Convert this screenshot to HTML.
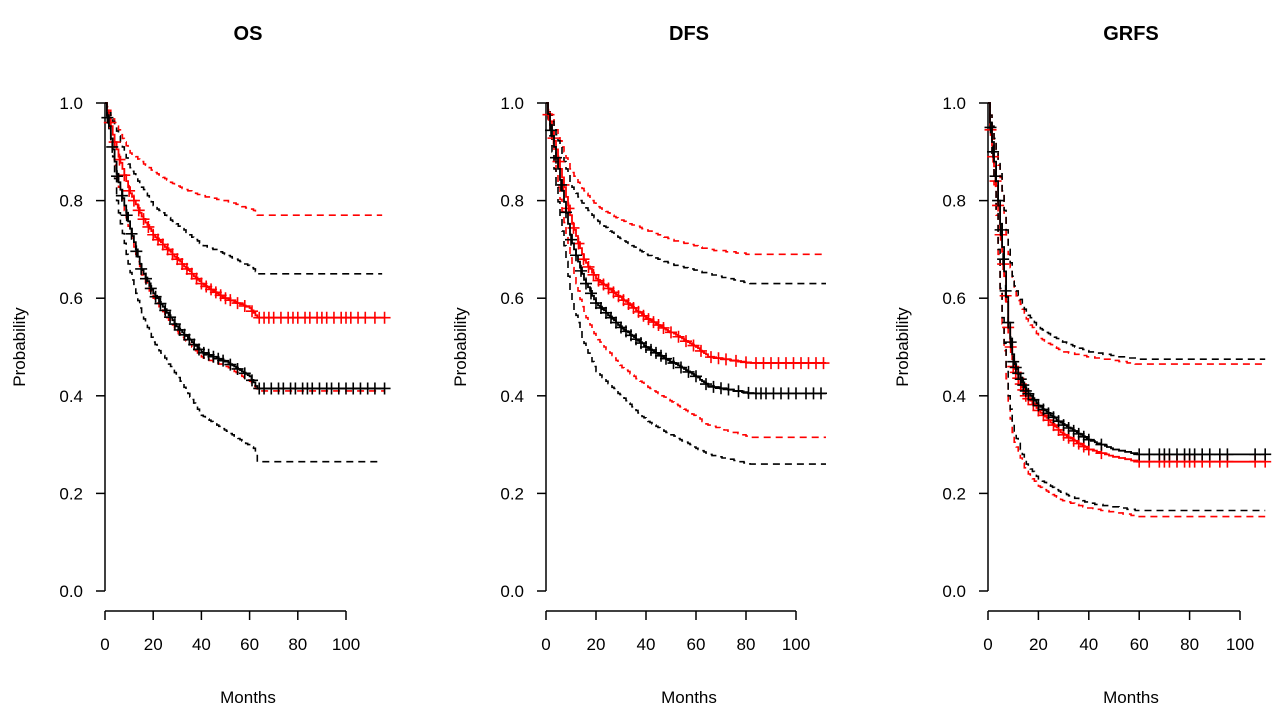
<!DOCTYPE html>
<html><head><meta charset="utf-8"><style>
body{margin:0;background:#fff;}
svg{display:block;font-family:"Liberation Sans",Arial,sans-serif;}
</style></head><body>
<svg id="chart" width="1280" height="722" viewBox="0 0 1280 722"></svg>
<script>
// ===== Data =====
const panelTitles = ["OS","DFS","GRFS"];
const xTicks = [0,20,40,60,80,100];
const yTicks = [0.0,0.2,0.4,0.6,0.8,1.0];
// OS
const osRedT = [0,5,10,15,20,30,40,50,60,63,116];
const osRedS = [1,0.9,0.82,0.77,0.73,0.68,0.63,0.60,0.58,0.56,0.56];
const osBlkT = [0,5,10,15,20,30,40,50,60,63,116];
const osBlkS = [1,0.85,0.75,0.66,0.61,0.54,0.49,0.47,0.44,0.415,0.415];
const osRedUpT = [0,5,10,20,30,40,50,62,63,115];
const osRedUpS = [1,0.95,0.90,0.86,0.83,0.81,0.80,0.78,0.77,0.77];
const osRedLoT = [0,5,10,15,20,30,40,50,60,63,116];
const osRedLoS = [1,0.84,0.74,0.65,0.60,0.53,0.48,0.46,0.43,0.41,0.41];
const osBlkUpT = [0,5,10,20,30,40,50,62,63,115];
const osBlkUpS = [1,0.94,0.87,0.79,0.75,0.71,0.69,0.66,0.65,0.65];
const osBlkLoT = [0,3,5,10,15,20,30,40,50,62,63,115];
const osBlkLoS = [1,0.9,0.79,0.66,0.57,0.51,0.44,0.36,0.33,0.29,0.265,0.265];
const osRedCens = [2,4,6,8,10,12,14,16,18,20,22,24,26,28,30,32,34,36,38,40,42,44,46,48,50,52,55,58,61,64,66,68,70,73,76,78,80,83,85,88,90,92,95,98,100,102,105,108,112,116];
const osBlkCens = [1,3,5,7,9,11,13,15,17,19,21,23,25,27,29,31,33,35,37,39,41,43,45,47,49,52,55,58,61,64,66,69,72,74,77,79,82,84,86,89,92,94,97,100,103,106,109,112,116];
// DFS
const dfsRedT = [0,5,10,15,20,30,40,50,60,65,82,112];
const dfsRedS = [1,0.88,0.76,0.68,0.64,0.60,0.56,0.53,0.50,0.48,0.467,0.467];
const dfsBlkT = [0,5,10,15,20,30,40,50,60,65,82,112];
const dfsBlkS = [1,0.86,0.72,0.64,0.59,0.54,0.50,0.47,0.44,0.42,0.405,0.405];
const dfsRedUpT = [0,5,10,15,20,30,40,50,65,82,112];
const dfsRedUpS = [1,0.93,0.86,0.82,0.79,0.76,0.74,0.72,0.70,0.69,0.69];
const dfsRedLoT = [0,5,10,15,20,30,40,50,65,82,112];
const dfsRedLoS = [1,0.82,0.67,0.57,0.52,0.46,0.42,0.39,0.34,0.315,0.315];
const dfsBlkUpT = [0,5,10,15,20,30,40,50,65,82,112];
const dfsBlkUpS = [1,0.92,0.83,0.79,0.76,0.72,0.69,0.67,0.65,0.63,0.63];
const dfsBlkLoT = [0,5,10,15,20,30,40,50,65,82,112];
const dfsBlkLoS = [1,0.79,0.60,0.51,0.45,0.40,0.35,0.32,0.28,0.26,0.26];
const dfsRedCens = [1,3,5,7,9,11,13,15,17,19,21,23,25,27,29,31,33,35,37,39,41,43,45,47,50,53,56,59,62,66,69,72,76,80,84,87,90,93,96,99,102,105,108,111];
const dfsBlkCens = [2,4,6,8,10,12,14,16,18,20,22,24,26,28,30,32,34,36,38,40,42,44,46,48,51,54,57,60,64,67,70,73,77,81,84,86,88,91,94,97,100,104,107,110];
// GRFS
const grRedT = [0,2,4,6,8,10,15,20,30,40,50,60,110];
const grRedS = [1,0.89,0.79,0.67,0.54,0.46,0.40,0.37,0.32,0.29,0.275,0.265,0.265];
const grBlkT = [0,2,4,6,8,10,15,20,30,40,50,60,110];
const grBlkS = [1,0.9,0.8,0.68,0.55,0.47,0.41,0.38,0.34,0.31,0.29,0.28,0.28];
const grRedUpT = [0,5,8,10,15,20,30,40,60,110];
const grRedUpS = [1,0.84,0.69,0.62,0.56,0.52,0.49,0.48,0.465,0.465];
const grRedLoT = [0,3,5,8,10,15,20,30,40,60,110];
const grRedLoS = [1,0.79,0.59,0.38,0.31,0.245,0.215,0.185,0.17,0.153,0.153];
const grBlkUpT = [0,5,8,10,15,20,30,40,60,110];
const grBlkUpS = [1,0.85,0.70,0.63,0.57,0.54,0.51,0.49,0.475,0.475];
const grBlkLoT = [0,3,5,8,10,15,20,30,40,60,110];
const grBlkLoS = [1,0.8,0.6,0.4,0.33,0.26,0.23,0.20,0.18,0.165,0.165];
const grRedCens = [1,2,3,4,5,6,7,8,9,10,11,12,13,14,15,16,18,20,22,24,26,28,30,32,34,36,38,40,45,60,64,68,70,72,75,78,80,82,85,88,92,95,106,110];
const grBlkCens = [1,2,3,4,5,6,7,8,9,10,11,12,13,14,15,16,18,20,22,24,26,28,30,32,34,36,38,40,45,60,64,68,70,72,75,78,80,82,85,88,92,95,106,110];

const panels = [
 {x0:105, scale:2.41, red:[osRedT,osRedS], blk:[osBlkT,osBlkS], ci:[[osRedUpT,osRedUpS,'red'],[osRedLoT,osRedLoS,'red'],[osBlkUpT,osBlkUpS,'black'],[osBlkLoT,osBlkLoS,'black']], rc:osRedCens, bc:osBlkCens},
 {x0:546, scale:2.5, red:[dfsRedT,dfsRedS], blk:[dfsBlkT,dfsBlkS], ci:[[dfsRedUpT,dfsRedUpS,'red'],[dfsRedLoT,dfsRedLoS,'red'],[dfsBlkUpT,dfsBlkUpS,'black'],[dfsBlkLoT,dfsBlkLoS,'black']], rc:dfsRedCens, bc:dfsBlkCens},
 {x0:988, scale:2.52, red:[grRedT,grRedS], blk:[grBlkT,grBlkS], ci:[[grRedUpT,grRedUpS,'red'],[grRedLoT,grRedLoS,'red'],[grBlkUpT,grBlkUpS,'black'],[grBlkLoT,grBlkLoS,'black']], rc:grRedCens, bc:grBlkCens}
];
const NS="http://www.w3.org/2000/svg";
const svg=document.getElementById('chart');
function el(tag,attrs,parent){const e=document.createElementNS(NS,tag);for(const k in attrs)e.setAttribute(k,attrs[k]);(parent||svg).appendChild(e);return e;}
const Y=v=>591-v*488;
function interp(T,S,t){for(let i=1;i<T.length;i++){if(t<=T[i]){const f=(t-T[i-1])/(T[i]-T[i-1]);return S[i-1]+f*(S[i]-S[i-1]);}}return S[S.length-1];}
function stepPath(T,S,X){let d='';const tEnd=T[T.length-1];let prev=1;d='M'+X(0)+','+Y(1);for(let t=0.8;t<=tEnd+0.01;t+=0.8){const v=interp(T,S,t);const vv=Math.round(v*400)/400;d+=' H'+X(t).toFixed(1)+' V'+Y(vv).toFixed(1);}d+=' H'+X(tEnd);return d;}
panels.forEach((p,i)=>{
 const X=t=>p.x0+t*p.scale;
 const g=el('g',{});
 
 
 const cx=p.x0+143;
 const title=el('text',{x:cx,y:40,'text-anchor':'middle','font-size':20,'font-weight':'bold'},g);title.textContent=panelTitles[i];
 
 const ya=el('g',{},g);
 
 el('line',{x1:p.x0,y1:Y(0),x2:p.x0,y2:Y(1),stroke:'#000','stroke-width':1.5},ya);
 yTicks.forEach(v=>{el('line',{x1:p.x0-9,y1:Y(v),x2:p.x0,y2:Y(v),stroke:'#000','stroke-width':1.5},ya);const t=el('text',{x:p.x0-22,y:Y(v)+6,'text-anchor':'end','font-size':17},ya);t.textContent=v.toFixed(1);});
 const yl=el('text',{x:0,y:0,'text-anchor':'middle','font-size':17,transform:`translate(${p.x0-80},347) rotate(-90)`},g);yl.textContent='Probability';
 
 const xa=el('g',{},g);
 
 el('line',{x1:X(0),y1:611,x2:X(100),y2:611,stroke:'#000','stroke-width':1.5},xa);
 xTicks.forEach(v=>{el('line',{x1:X(v),y1:611,x2:X(v),y2:620,stroke:'#000','stroke-width':1.5},xa);const t=el('text',{x:X(v),y:650,'text-anchor':'middle','font-size':17},xa);t.textContent=v;});
 const xl=el('text',{x:cx,y:703,'text-anchor':'middle','font-size':17},g);xl.textContent='Months';
 
 p.ci.forEach(c=>{const pa=el('path',{d:stepPath(c[0],c[1],X),fill:'none',stroke:c[2],'stroke-width':1.6,'stroke-dasharray':'7,5'},g);
  });
 [[p.red,'red',p.rc],[p.blk,'black',p.bc]].forEach(s=>{
  const pa=el('path',{d:stepPath(s[0][0],s[0][1],X),fill:'none',stroke:s[1],'stroke-width':1.8},g);
  
  s[2].forEach(t=>{const x=X(t),y=Y(interp(s[0][0],s[0][1],t));
   const m=el('path',{d:`M${x-6},${y} H${x+6} M${x},${y-6} V${y+6}`,stroke:s[1],'stroke-width':1.6},g);
   });
 });
});
</script>
</body></html>
